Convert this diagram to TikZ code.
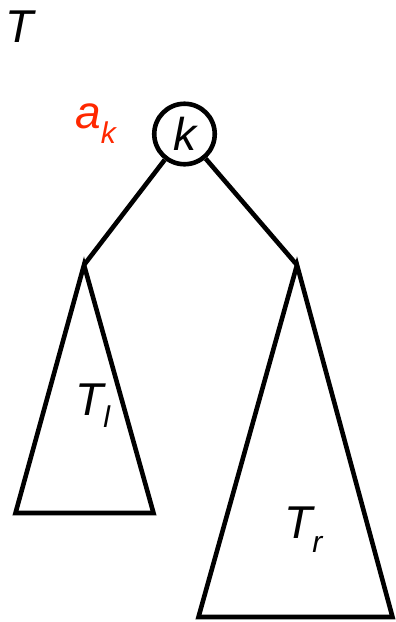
\documentclass[tikz,border=0pt]{standalone}
\usepackage{fontspec}
\setmainfont{Liberation Sans}
\definecolor{akred}{RGB}{255,40,0}
\tikzset{
  edge/.style={line width=4.6pt, line join=miter},
  lbl/.style={inner sep=0pt, anchor=base west, font=\fontsize{46}{46}\selectfont\itshape},
}
\newcommand{\subtxt}[2]{\raisebox{-#1pt}{\fontsize{30}{30}\selectfont\itshape #2}}
\begin{document}
\begin{tikzpicture}[x=1pt,y=-1pt]
\useasboundingbox (0,0) rectangle (396,622);
% root
\node[draw, circle, line width=4.6pt, minimum size=60.5pt, inner sep=0pt,
      font=\fontsize{46}{46}\selectfont\itshape] (k) at (184.5,134) {k};
\node[lbl] (T) at (5,42) {T};
\node[lbl, text=akred] (ak) at (75,128) {a\subtxt{15}{k}};
% apexes
\coordinate (la) at (84,265);
\coordinate (ra) at (297,265);
\coordinate (lbl1) at (15.5,513);
\coordinate (lbr) at (153.5,513);
\coordinate (rbl) at (198.5,617);
\coordinate (rbr) at (392.5,617);
\draw[edge] (k) -- (la);
\draw[edge] (k) -- (ra);
\draw[edge] (la) -- (lbl1) -- (lbr) -- cycle;
\draw[edge] (ra) -- (rbl) -- (rbr) -- cycle;
\node[lbl] (Tl) at (75,415) {T\subtxt{12}{l}};
\node[lbl] (Tr) at (284,538) {T\subtxt{14}{r}};
\end{tikzpicture}
\end{document}
